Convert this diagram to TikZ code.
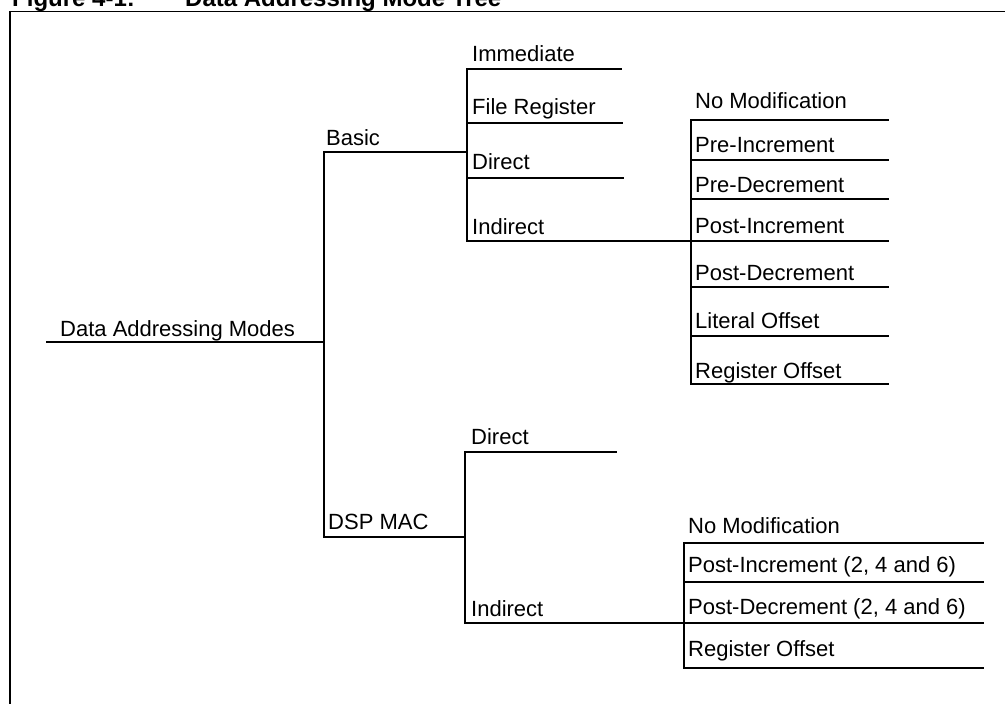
\documentclass[tikz,border=0pt]{standalone}
\usepackage{fontspec}
\setmainfont{Liberation Sans}
% one branch of the tree: a horizontal rule with its label sitting on it
% #1 name, #2 x start, #3 x end, #4 y of rule, #5 x of label, #6 baseline of label, #7 text
\newcommand\branchline[7]{%
  \coordinate (#1-s) at (#2,#4);
  \coordinate (#1-e) at (#3,#4);
  \node[lbl] (#1) at (#5,#6) {#7};
  \draw[tree] (#1-s) -- (#1-e);
}
\begin{document}
\begin{tikzpicture}[x=1pt,y=-1pt,
  lbl/.style={anchor=base west,inner sep=0pt,font=\fontsize{22}{26}\selectfont},
  ttl/.style={anchor=base west,inner sep=0pt,font=\fontsize{24}{28}\selectfont\bfseries},
  tree/.style={line width=1.6pt,line cap=rect},
  frame/.style={line width=1.7pt}]
\useasboundingbox (0,0) rectangle (1005,704);
\clip (0,0) rectangle (1005,704);

% caption and figure frame
\node[ttl] (fignum) at (12,6.5) {Figure 4-1:};
\node[ttl] (figtitle) at (185,6.5) {Data Addressing Mode Tree};
\coordinate (frame-bl) at (10,712);
\coordinate (frame-tl) at (10,11.5);
\coordinate (frame-tr) at (1012,11.5);
\draw[frame] (frame-bl) -- (frame-tl) -- (frame-tr);

% root
\branchline{dam}{47}{324}{342}{60}{336}{Data Addressing Modes}

% first level
\branchline{basic}{324}{467}{152}{326}{145}{Basic}
\branchline{dsp}{324}{465}{537}{328}{529}{DSP MAC}
\draw[tree] (basic-s) -- (dsp-s);

% basic modes
\branchline{imm}{467}{621}{69}{472}{61}{Immediate}
\branchline{freg}{467}{622}{123}{472}{114}{File Register}
\branchline{bdir}{467}{623}{178}{472}{169}{Direct}
\branchline{bind}{467}{691}{241}{472}{234}{Indirect}
\draw[tree] (imm-s) -- (bind-s);

% basic indirect variants
\branchline{nomodA}{691}{888}{120}{695}{108}{No Modification}
\branchline{preinc}{691}{888}{160}{695}{152}{Pre-Increment}
\branchline{predec}{691}{888}{199}{695}{192}{Pre-Decrement}
\branchline{postincA}{691}{888}{241}{695}{233}{Post-Increment}
\branchline{postdecA}{691}{888}{287}{695}{280}{Post-Decrement}
\branchline{litoff}{691}{888}{336}{695}{328}{Literal Offset}
\branchline{regoffA}{691}{888}{384}{695}{378}{Register Offset}
\draw[tree] (nomodA-s) -- (regoffA-s);

% DSP MAC modes
\branchline{ddir}{465}{616}{452}{471}{444}{Direct}
\branchline{dind}{465}{684}{623}{471}{616}{Indirect}
\draw[tree] (ddir-s) -- (dind-s);

% DSP MAC indirect variants
\branchline{nomodB}{684}{983}{543}{688}{533}{No Modification}
\branchline{postincB}{684}{983}{582}{688}{572}{Post-Increment (2, 4 and 6)}
\branchline{postdecB}{684}{983}{623}{688}{614}{Post-Decrement (2, 4 and 6)}
\branchline{regoffB}{684}{983}{668}{688}{656}{Register Offset}
\draw[tree] (nomodB-s) -- (regoffB-s);
\end{tikzpicture}
\end{document}
